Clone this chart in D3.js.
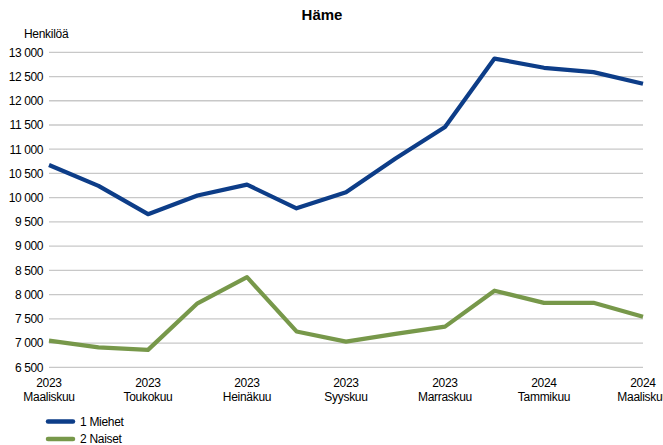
<!DOCTYPE html>
<html>
<head>
<meta charset="utf-8">
<script src="https://cdn.jsdelivr.net/npm/d3@7"></script>
<style>
  body { margin: 0; background: #fff; }
  svg { display: block; font-family: "Liberation Sans", Arial, sans-serif; }
</style>
</head>
<body>
<div id="chart"></div>
<script>
// months shown on the x axis (year + Finnish month name)
var years = ["2023", "2023", "2023", "2023", "2023", "2023", "2023", "2023", "2023", "2023", "2024", "2024", "2024"];
var months = ["Maaliskuu", "Huhtikuu", "Toukokuu", "Kesäkuu", "Heinäkuu", "Elokuu", "Syyskuu",
  "Lokakuu", "Marraskuu", "Joulukuu", "Tammikuu", "Helmikuu", "Maaliskuu"];

var miehet = [10675, 10245, 9660, 10045, 10270, 9780, 10110, 10810, 11460, 12870, 12680, 12590, 12350];
var naiset = [7050, 6910, 6860, 7820, 8360, 7240, 7030, 7190, 7340, 8080, 7830, 7830, 7545];

var seriesNames = ["1 Miehet", "2 Naiset"];
var seriesColors = ["#0d3d88", "#77984a"];

var yTicks = [6500, 7000, 7500, 8000, 8500, 9000, 9500, 10000, 10500, 11000, 11500, 12000, 12500, 13000];

var width = 663, height = 445;

var svg = d3.select("#chart")
  .append("svg")
  .attr("width", width)
  .attr("height", height);

var idx = d3.range(months.length);

var x = d3.scalePoint()
  .domain(idx)
  .range([49, 643]);

var y = d3.scaleLinear()
  .domain([6500, 13000])
  .range([367.3, 52.3]);

var fmt = function (d) {
  return d3.format(",")(d).replace(",", "\u00a0");
};

// grid lines
svg.append("g")
  .selectAll("line")
  .data(yTicks)
  .join("line")
  .attr("x1", x(0))
  .attr("x2", x(idx.length - 1))
  .attr("y1", function (d) { return y(d); })
  .attr("y2", function (d) { return y(d); })
  .attr("stroke", "#c8c8c8")
  .attr("stroke-width", 1.3);

// y axis labels
var yAxis = d3.axisLeft(y).tickValues(yTicks).tickFormat(fmt).tickSize(0).tickPadding(0);
var yg = svg.append("g")
  .attr("transform", "translate(43,0)")
  .call(yAxis);
yg.select(".domain").remove();
yg.selectAll("text")
  .attr("font-size", 12)
  .attr("fill", "#000")
  .attr("font-family", "Liberation Sans, Arial, sans-serif")
  .attr("letter-spacing", "-0.4");

// x axis labels (every second month, two lines)
var xg = svg.append("g")
  .attr("transform", "translate(0,367.3)");
var xl = xg.selectAll("text")
  .data(idx.filter(function (i) { return i % 2 === 0; }))
  .join("text")
  .attr("x", function (i) { return x(i); })
  .attr("text-anchor", "middle")
  .attr("font-size", 12)
  .attr("letter-spacing", "-0.3")
  .attr("fill", "#000");
xl.append("tspan")
  .attr("x", function (i) { return x(i); })
  .attr("y", 20)
  .text(function (i) { return years[i]; });
xl.append("tspan")
  .attr("x", function (i) { return x(i); })
  .attr("y", 34)
  .text(function (i) { return months[i]; });

// lines
var line = d3.line()
  .x(function (d, i) { return x(i); })
  .y(function (d) { return y(d); });

svg.append("g")
  .selectAll("path")
  .data([miehet, naiset])
  .join("path")
  .attr("d", line)
  .attr("fill", "none")
  .attr("stroke", function (d, i) { return seriesColors[i]; })
  .attr("stroke-width", 4.2)
  .attr("stroke-linejoin", "round")
  .attr("stroke-linecap", "butt");

// title
svg.append("text")
  .attr("x", 322)
  .attr("y", 20)
  .attr("text-anchor", "middle")
  .attr("font-size", 15)
  .attr("font-weight", "bold")
  .text("Häme");

svg.append("text")
  .attr("x", 24)
  .attr("y", 38)
  .attr("font-size", 12)
  .attr("letter-spacing", "-0.3")
  .text("Henkilöä");

// legend
var leg = svg.append("g")
  .selectAll("g")
  .data(seriesNames)
  .join("g")
  .attr("transform", function (d, i) { return "translate(48," + (421.5 + i * 17.5) + ")"; });
leg.append("line")
  .attr("x1", 0)
  .attr("x2", 25)
  .attr("stroke", function (d, i) { return seriesColors[i]; })
  .attr("stroke-width", 4.5)
  .attr("stroke-linecap", "round");
leg.append("text")
  .attr("x", 32)
  .attr("y", 4)
  .attr("font-size", 12)
  .attr("letter-spacing", "-0.3")
  .text(function (d) { return d; });
</script>
</body>
</html>
